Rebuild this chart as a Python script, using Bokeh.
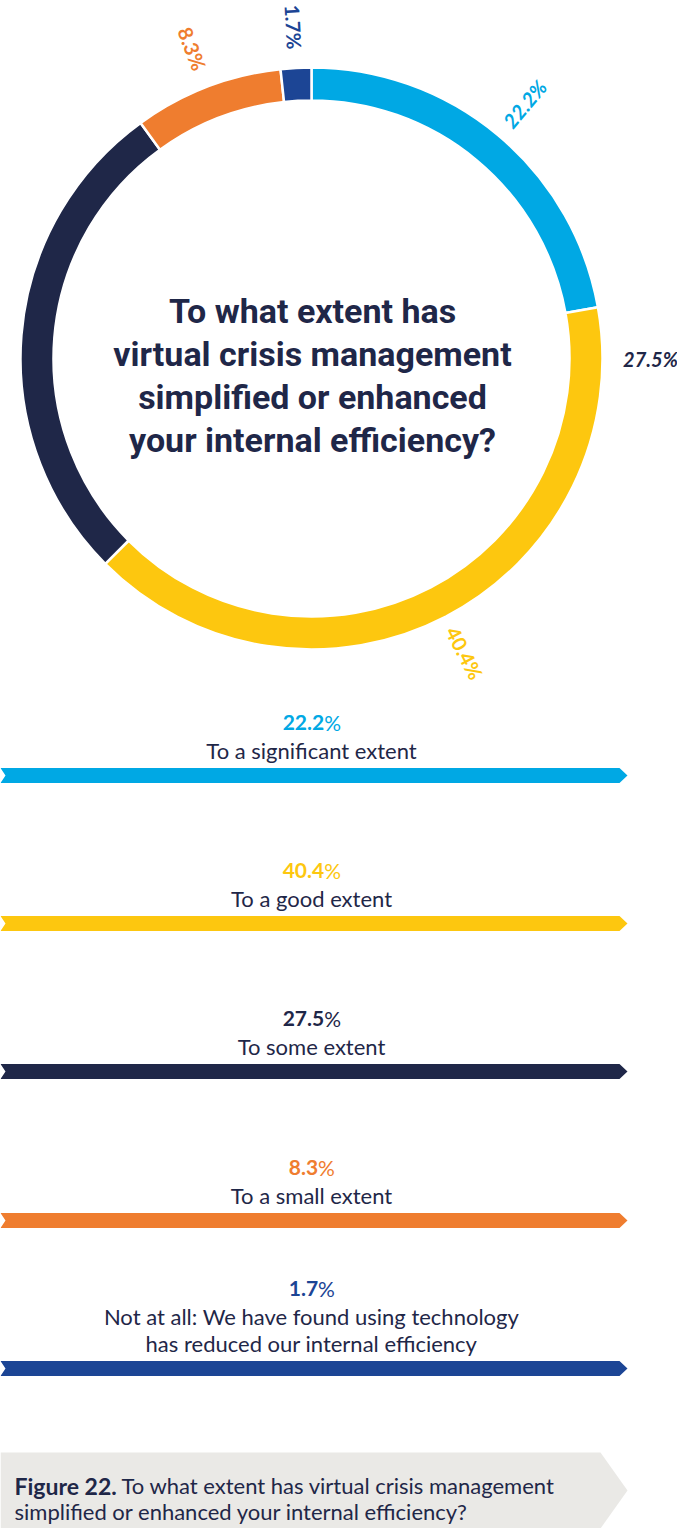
import math
from bokeh.plotting import figure
from bokeh.models import Range1d
from bokeh.core.properties import value
from bokeh.embed import file_html
from bokeh.resources import INLINE

# ---------------- data ----------------
categories = [
    "To a significant extent",
    "To a good extent",
    "To some extent",
    "To a small extent",
    "Not at all: We have found using technology\nhas reduced our internal efficiency",
]
percentages = [22.2, 40.4, 27.5, 8.3, 1.7]
colors = ["#00a8e4", "#fdc70f", "#1f2748", "#ef7d2f", "#1c4595"]
ring_label_styles = ["bold italic", "bold", "bold italic", "bold", "bold"]
title_lines = [
    "To what extent has",
    "virtual crisis management",
    "simplified or enhanced",
    "your internal efficiency?",
]
caption_bold = "Figure 22."
caption_lines = [
    "To what extent has virtual crisis management",
    "simplified or enhanced your internal efficiency?",
]

NAVY = "#1f2748"
W, H = 677, 1528


def Y(iy):
    return H - iy


p = figure(width=W, height=H, output_backend="svg", toolbar_location=None,
           x_range=Range1d(0, W), y_range=Range1d(0, H),
           min_border=0, border_fill_color="white", background_fill_color="white")
p.axis.visible = False
p.grid.visible = False
p.outline_line_color = None

# ---------------- donut ----------------
cx, cy = 311, Y(358)
cum = [0.0]
for v in percentages:
    cum.append(cum[-1] + v)
total = cum[-1]
starts = [math.pi / 2 - 2 * math.pi * cum[i] / total for i in range(len(percentages))]
ends = [math.pi / 2 - 2 * math.pi * cum[i + 1] / total for i in range(len(percentages))]
p.annular_wedge(x=cx, y=cy, inner_radius=258, outer_radius=291,
                start_angle=starts, end_angle=ends, direction="clock",
                fill_color=colors, line_color="white", line_width=2.5)

# ring labels
lx, ly, la, lt = [], [], [], []
for i, v in enumerate(percentages):
    mid = (cum[i] + cum[i + 1]) / 2 / total
    theta = math.pi / 2 - 2 * math.pi * mid
    r = 332
    if i == 2:  # the original places this one at 3 o'clock
        theta = 0.0
        r = 339
    lx.append(cx + r * math.cos(theta))
    ly.append(cy + r * math.sin(theta))
    rot = theta if math.cos(theta) >= -1e-9 else theta + math.pi
    la.append(rot)
    lt.append(f"{v}%")
p.text(x=lx, y=ly, text=lt, angle=la, text_align="center", text_baseline="middle",
       text_font=value("Lato"), text_font_size="20px", text_font_style=ring_label_styles,
       text_color=colors)

# centre title
for k, line in enumerate(title_lines):
    p.text(x=[312], y=[Y(310 + 43 * k)], text=[line], text_align="center",
           text_baseline="alphabetic", text_font=value("Roboto"),
           text_font_size="34px", text_font_style="bold", text_color=NAVY)

# ---------------- bars ----------------
bar_centers = [775, 923, 1071, 1220, 1368]
half = 7.5
xs, ys = [], []
for c in bar_centers:
    xs.append([0, 619, 627, 619, 0, 5])
    ys.append([Y(c - half), Y(c - half), Y(c), Y(c + half), Y(c + half), Y(c)])
p.patches(xs=xs, ys=ys, fill_color=colors, line_color=None)


def approx_w(s, size):
    w = 0.0
    for ch in s:
        if ch.isdigit():
            w += 0.58
        elif ch == ".":
            w += 0.27
        else:
            w += 0.6
    return w * size


for i, (cat, v, c) in enumerate(zip(categories, percentages, bar_centers)):
    lines = cat.split("\n")
    n = len(lines)
    for j, line in enumerate(lines):
        yy = c - 25 - 27 * (n - 1 - j)
        p.text(x=[311], y=[Y(yy)], text=[line], text_align="center", text_baseline="middle",
               text_font=value("Lato"), text_font_size="22px", text_color=NAVY)
    ytop = c - 25 - 27 * (n - 1) - 28
    num = f"{v}"
    wn = approx_w(num, 21)
    wp = 0.8 * 21
    split = 311 - (wn + wp) / 2 + wn
    p.text(x=[split], y=[Y(ytop)], text=[num], text_align="right", text_baseline="middle",
           text_font=value("Lato"), text_font_size="21px", text_font_style="bold",
           text_color=colors[i])
    p.text(x=[split], y=[Y(ytop)], text=["%"], text_align="left", text_baseline="middle",
           text_font=value("Lato"), text_font_size="21px", text_color=colors[i])

# ---------------- caption box ----------------
p.patch(x=[0, 600, 627, 600, 0], y=[Y(1452), Y(1452), Y(1490), Y(1528), Y(1528)],
        fill_color="#eae9e6", line_color=None)
p.text(x=[14], y=[Y(1485)], text=[caption_bold], text_align="left", text_baseline="alphabetic",
       text_font=value("Lato"), text_font_size="23px", text_font_style="bold", text_color=NAVY)
p.text(x=[121], y=[Y(1485)], text=[caption_lines[0]], text_align="left", text_baseline="alphabetic",
       text_font=value("Lato"), text_font_size="22px", text_color=NAVY)
p.text(x=[14], y=[Y(1511)], text=[caption_lines[1]], text_align="left", text_baseline="alphabetic",
       text_font=value("Lato"), text_font_size="22px", text_color=NAVY)

open("out.html", "w").write(file_html(p, INLINE))
